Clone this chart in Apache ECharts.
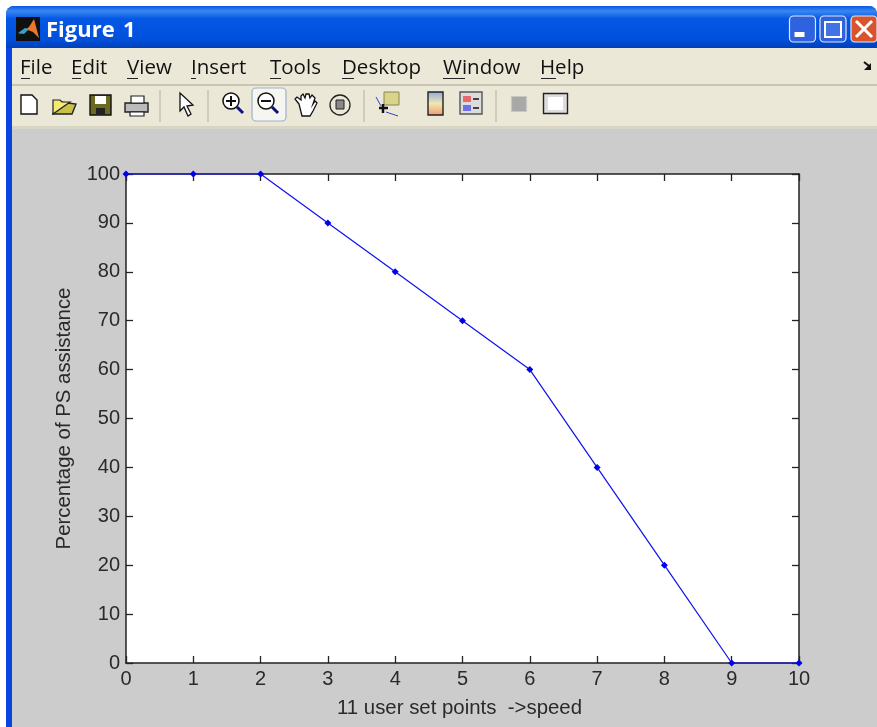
<!DOCTYPE html>
<html><head><meta charset="utf-8">
<style>html,body{margin:0;padding:0;background:#fff}#c{width:877px;height:727px}</style>
<script src="https://cdn.jsdelivr.net/npm/echarts@6/dist/echarts.min.js"></script></head>
<body><div id="c"></div>
<script>
const xValues = [0,1,2,3,4,5,6,7,8,9,10];
const yValues = [100,100,100,90,80,70,60,40,20,0,0];
const xLabel = '11 user set points  ->speed';
const yLabel = 'Percentage of PS assistance';
const menuItems = [['File',20],['Edit',71],['View',127],['Insert',191],['Tools',270],['Desktop',342],['Window',443],['Help',540]];
const menuUnderline = [[21,30],[72,81],[127,138],[191,196],[270,281],[342,354],[443,465],[541,556]];

const chart = echarts.init(document.getElementById('c'), null, {renderer:'canvas'});
const rect=(x,y,w,h,fill,extra={})=>({type:'rect',shape:{x,y,width:w,height:h,r:extra.r||0},style:{fill,stroke:extra.stroke||null,lineWidth:extra.lw||1},silent:true,z:extra.z||1});
const line=(x1,y1,x2,y2,stroke,lw=1,z=3)=>({type:'line',shape:{x1,y1,x2,y2},style:{stroke,lineWidth:lw},silent:true,z});
const poly=(points,fill,stroke,lw=1,z=3)=>({type:'polygon',shape:{points},style:{fill,stroke,lineWidth:lw},silent:true,z});
const circ=(cx,cy,r,fill,stroke,lw=1.5,z=3)=>({type:'circle',shape:{cx,cy,r},style:{fill,stroke,lineWidth:lw},silent:true,z});
const txt=(x,y,text,font,fill,z=3)=>({type:'text',x,y,style:{text,font,fill,textVerticalAlign:'middle'},silent:true,z});
const els=[];
// window frame
els.push(rect(0,0,877,727,'#ffffff',{z:0}));
els.push({type:'rect',shape:{x:6,y:6,width:871,height:721,r:[8,8,0,0]},style:{fill:'#0a5ce6'},silent:true,z:1});
els.push({type:'rect',shape:{x:6,y:6,width:871,height:42,r:[8,8,0,0]},style:{fill:{type:'linear',x:0,y:0,x2:0,y2:1,colorStops:[{offset:0,color:'#0a58e2'},{offset:0.12,color:'#3a86f2'},{offset:0.3,color:'#0558e4'},{offset:0.8,color:'#0050dc'},{offset:1,color:'#0040b8'}]}},silent:true,z:1});
els.push(rect(6,48,6,679,'#0a44e0',{z:1}));
els.push(rect(12,48,865,36,'#ebe8d8',{z:2}));
els.push(rect(12,84,865,2,'#c8c5b5',{z:2}));
els.push(rect(12,86,865,40,'#ebe8d8',{z:2}));
els.push(rect(12,126,865,3,'#d8d5c5',{z:2}));
els.push(rect(12,129,865,598,'#cccccc',{z:2}));
// title
els.push(rect(16,17,24,24,'#101010',{z:3}));
els.push(poly([[18,35],[29,27],[34,19],[39,38],[33,32],[28,30]],'#e8782a',null));
els.push(poly([[18,33],[25,28],[29,29],[24,34]],'#3aa0c8',null));
els.push(txt(46,31,'Figure','bold 22px "Open Sans"','#ffffff'));
els.push(txt(123,31,'1','bold 22px "Open Sans"','#ffffff'));
// title buttons
const btn=(x,f)=>rect(x,16,26,26,f,{r:4,stroke:'#dfe8fb',lw:1.2,z:3});
els.push(btn(789.5,'#2f62df'),btn(820,'#2f62df'),btn(851,'#d9532c'));
els.push(rect(794.5,32,10,5,'#ffffff',{z:4}));
els.push(rect(825,22,16,15,'#3f74e4',{stroke:'#ffffff',lw:2,z:4}));
els.push(line(856,21,872,37,'#ffffff',3,4),line(872,21,856,37,'#ffffff',3,4));
// menu
menuItems.forEach(m=>els.push(txt(m[1],68,m[0],'20.5px "Open Sans"','#111111')));
menuUnderline.forEach(u=>els.push(line(u[0],78.5,u[1],78.5,'#222222',1)));
els.push(line(864,62,869,66,'#111111',2),poly([[871,63],[871,70],[864,70]],'#111111',null));
// toolbar icons
els.push(poly([[21,95],[32,95],[37,100],[37,114],[21,114]],'#ffffff','#111111',1.4));
els.push(poly([[53,114],[57,102],[60,102],[76,104],[72,114]],'#c9c04a','#222222',1.4));
els.push(poly([[53,114],[53,100],[60,100],[62,102],[70,102]],'#f4ea70','#222222',1.2));
els.push(rect(90,95,21,20,'#6b6a20',{stroke:'#111111',lw:1.4,z:3}));
els.push(rect(95,96,11,8,'#ffffff',{z:4}),rect(96,108,9,7,'#222222',{z:4}));
els.push(rect(125,103,23,9,'#bbbbbb',{stroke:'#222222',lw:1.4,z:3}));
els.push(rect(131,96,13,7,'#ffffff',{stroke:'#222222',lw:1.2,z:3}),rect(130,112,14,4,'#ffffff',{stroke:'#222222',lw:1.2,z:3}));
[[160,90,122],[208,90,122],[364,90,122]].forEach(s=>els.push(line(s[0],s[1],s[0],s[2],'#c4c1b0',1.4)));
els.push(line(496,90,496,122,'#c4c1b0',1.4));
els.push(poly([[180,93],[180,111],[184,107],[188,116],[191,114],[187,106],[193,105]],'#ffffff','#111111',1.3));
// zoom in
els.push(circ(231,101,8,'#ffffff','#111111'),line(226,101,236,101,'#111111',2),line(231,96,231,106,'#111111',2),line(237,107,243,113,'#101080',3));
// zoom out pressed
els.push(rect(252,88,34,33,'#f6f6f0',{r:4,stroke:'#9fb0c8',lw:1.2,z:3}));
els.push(circ(266,101,8,'#ffffff','#111111',1.5,4),line(261,101,271,101,'#111111',2,4),line(272,107,278,113,'#101080',3,4));
// hand
els.push(poly([[299,104],[295,99],[297,97],[301,100],[301,96],[303,94],[305,98],[306,94],[309,94],[310,98],[312,95],[315,98],[313,104],[315,101],[317,103],[313,111],[310,116],[302,116]],'#ffffff','#111111',1.3));
// rotate
els.push(circ(340,105,10,'none','#222222',1.3),rect(336,100,8,9,'#888888',{stroke:'#222222',z:3}));
// data cursor
els.push(rect(384,92,15,13,'#d9d48a',{stroke:'#888855',z:3}));
els.push(line(379,108,388,108,'#111111',2.5),line(383,104,383,113,'#111111',2.5));
els.push(line(376,97,381,106,'#3344cc',1),line(386,112,398,116,'#3344cc',1));
// colorbar
els.push({type:'rect',shape:{x:428,y:92,width:15,height:23},style:{fill:{type:'linear',x:0,y:0,x2:0,y2:1,colorStops:[{offset:0,color:'#8ca8e0'},{offset:0.5,color:'#f0e8b0'},{offset:1,color:'#f09870'}]},stroke:'#222222',lineWidth:1.4},silent:true,z:3});
// legend
els.push(rect(460,92,22,22,'#dcdcdc',{stroke:'#555555',lw:1.4,z:3}));
els.push(rect(463,96,8,6,'#e86870',{z:4}),rect(463,105,8,6,'#7070e8',{z:4}),line(473,99,479,99,'#111111',1.5,4),line(473,108,479,108,'#111111',1.5,4));
// plain icons
els.push(rect(511.5,96.5,15,15,'#a8a8a8',{stroke:'#c8c8c0',lw:1.2,z:3}));
els.push(rect(543.5,93.5,24,20,'#dddddd',{stroke:'#222222',lw:1.4,z:3}),rect(548,97,15,13,'#ffffff',{z:4}));

const axisStyle={lineStyle:{color:'#222222',width:1.5}};
const tick={show:true,inside:true,length:7,lineStyle:{color:'#222222',width:1.3}};
const lab={color:'#2a2a2a',fontFamily:'Liberation Sans',fontSize:20};
chart.setOption({
  animation:false,
  backgroundColor:'transparent',
  graphic:{elements:els},
  grid:{left:126,right:78,top:174,bottom:64,show:true,backgroundColor:'#ffffff',borderColor:'#111111',borderWidth:0,z:5},
  xAxis:[
    {type:'value',min:0,max:10,interval:1,position:'bottom',name:xLabel,nameLocation:'middle',nameGap:35,
     nameTextStyle:{color:'#2a2a2a',fontFamily:'Liberation Sans',fontSize:20.4,padding:[0,6,0,0]},
     axisLine:{show:true,...axisStyle,onZero:false},axisTick:tick,splitLine:{show:false},axisLabel:{...lab,margin:6},z:6},
    {type:'value',min:0,max:10,interval:1,position:'top',axisLine:{show:true,...axisStyle,onZero:false},axisTick:tick,splitLine:{show:false},axisLabel:{show:false},z:6}
  ],
  yAxis:[
    {type:'value',min:0,max:100,interval:10,position:'left',name:yLabel,nameLocation:'middle',nameGap:52,
     nameTextStyle:{color:'#2a2a2a',fontFamily:'Liberation Sans',fontSize:20.4},
     axisLine:{show:true,...axisStyle,onZero:false},axisTick:tick,splitLine:{show:false},axisLabel:{...lab,margin:6},z:6},
    {type:'value',min:0,max:100,interval:10,position:'right',axisLine:{show:true,...axisStyle,onZero:false},axisTick:tick,splitLine:{show:false},axisLabel:{show:false},z:6}
  ],
  series:[{type:'line',data:xValues.map((x,i)=>[x,yValues[i]]),clip:false,z:10,
    lineStyle:{color:'#1010f0',width:1.2},symbol:'diamond',symbolSize:7,showSymbol:true,
    itemStyle:{color:'#0000ee',borderWidth:0}}]
});
</script></body></html>
